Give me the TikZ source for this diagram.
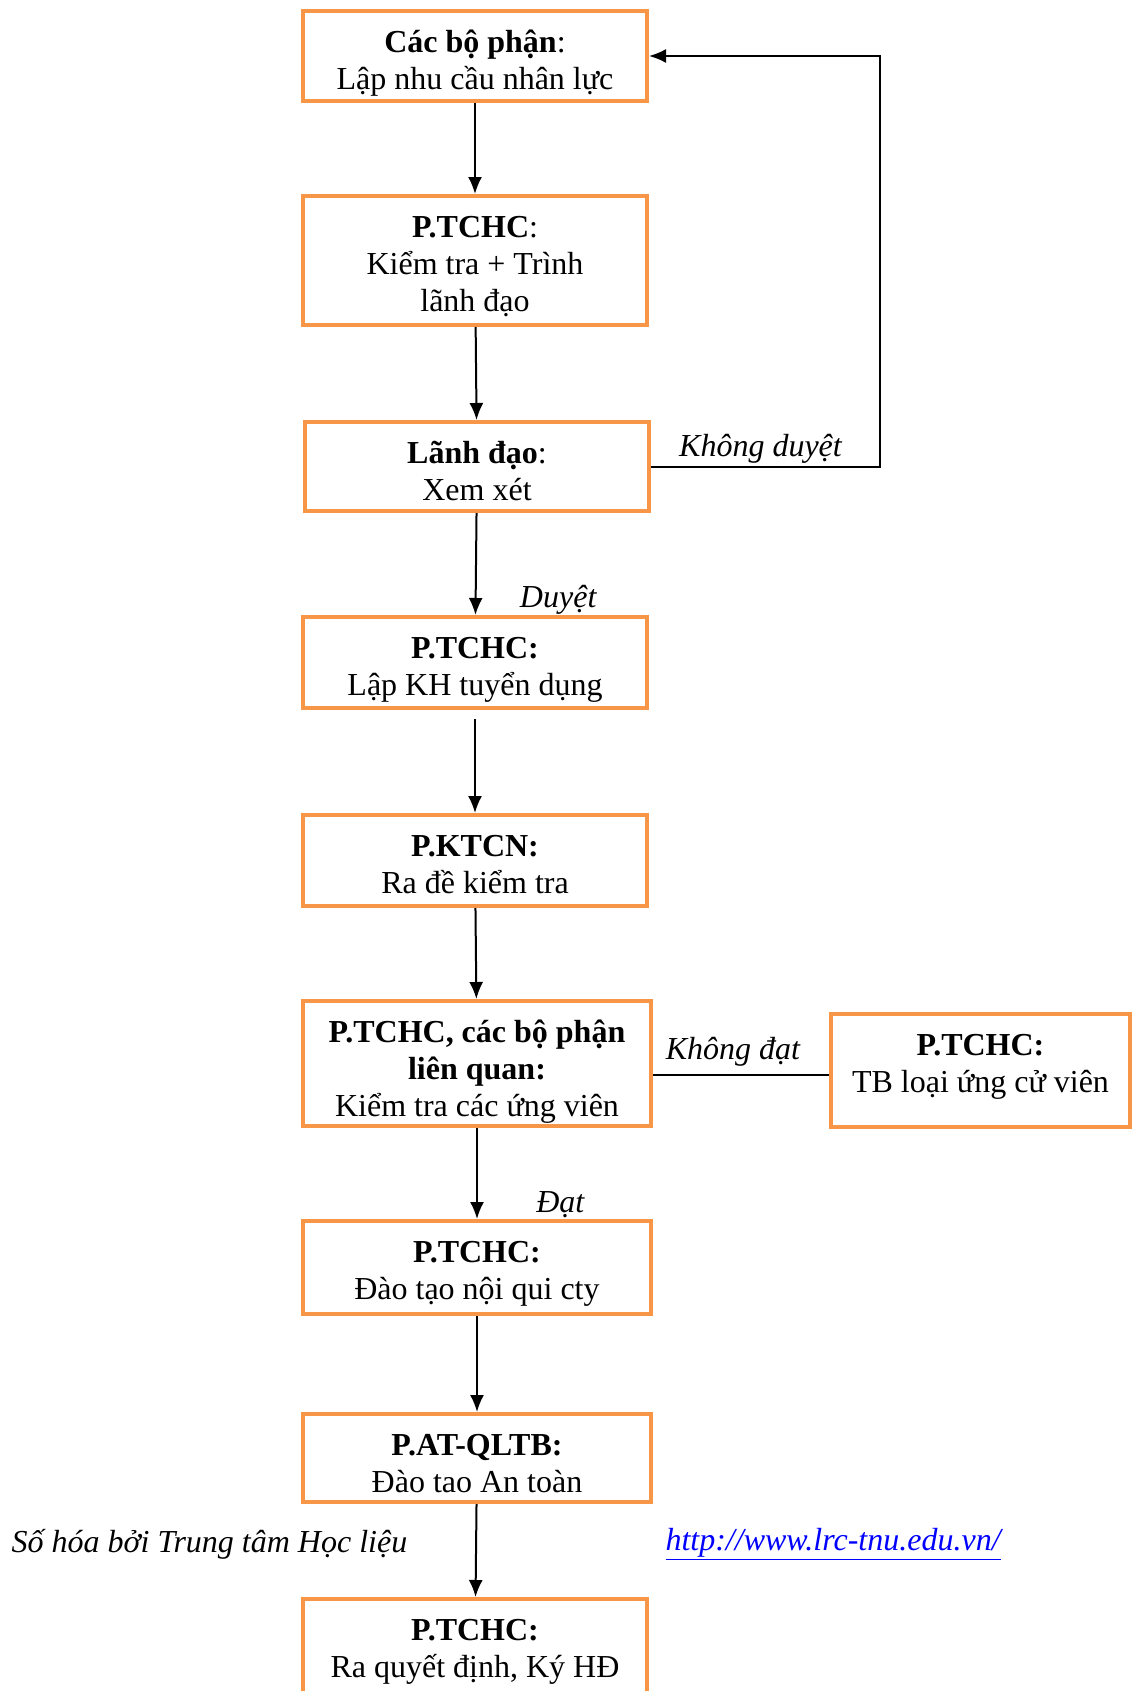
\documentclass[tikz,border=0pt]{standalone}
\usepackage{fontspec}
\setmainfont{Liberation Serif}
\usepackage{tikz}
\usetikzlibrary{arrows.meta}
\usetikzlibrary{positioning}
\usetikzlibrary{math}
\definecolor{boxorange}{RGB}{247,150,70}
\definecolor{linkblue}{RGB}{0,0,255}
\newcommand{\toprow}{\rule{0pt}{31pt}}

\begin{document}
\begin{tikzpicture}[x=1pt, y=-1pt,
  stepbox/.style={draw=boxorange, line width=4pt, inner sep=0pt},
  steptext/.style={align=center, inner sep=0pt, font=\fontsize{32}{37}\selectfont},
  flow/.style={-{Latex[length=17pt,width=14pt]}, line width=2pt},
  note/.style={font=\fontsize{32}{37}\selectfont\itshape}]
\tikzmath{
\W=344;
\Wb=348;
}
\useasboundingbox (0,0) rectangle (1134,1691);

% frames
\node[stepbox, minimum width=\W, minimum height=90] (dept) at (475,56) {};
\node[stepbox, minimum width=\W, minimum height=129] (check) at (475,260.5) {};
\node[stepbox, minimum width=\W, minimum height=89] (lead) at (477,466.5) {};
\node[stepbox, minimum width=\W, minimum height=91] (plan) at (475,662.5) {};
\node[stepbox, minimum width=\W, minimum height=91] (exam) at (475,860.5) {};
\node[stepbox, minimum width=\Wb, minimum height=125] (test) at (477,1063.5) {};
\node[stepbox, minimum width=299, minimum height=113] (reject) at (980.5,1070.5) {};
\node[stepbox, minimum width=\Wb, minimum height=93] (rules) at (477,1267.5) {};
\node[stepbox, minimum width=\Wb, minimum height=88] (safety) at (477,1458) {};
\node[stepbox, minimum width=\W, minimum height=100, anchor=north] (hire) at (475,1597) {};
\coordinate (fail) at (829,1075);

% texts, hanging from the top of each frame
\node[steptext, below=12pt of dept.north] (dept-t)
  {\toprow\textbf{Các bộ phận}:\\Lập nhu cầu nhân lực};
\node[steptext, below=12pt of check.north] (check-t)
  {\toprow\textbf{P.TCHC}:\\Kiểm tra + Trình\\lãnh đạo};
\node[steptext, below=12pt of lead.north] (lead-t)
  {\toprow\textbf{Lãnh đạo}:\\Xem xét};
\node[steptext, below=12pt of plan.north] (plan-t)
  {\toprow\textbf{P.TCHC:}\\Lập KH tuyển dụng};
\node[steptext, below=12pt of exam.north] (exam-t)
  {\toprow\textbf{P.KTCN:}\\Ra đề kiểm tra};
\node[steptext, below=12pt of test.north] (test-t)
  {\toprow\textbf{P.TCHC, các bộ phận}\\\textbf{liên quan:}\\Kiểm tra các ứng viên};
\node[steptext, below=12pt of reject.north] (reject-t)
  {\toprow\textbf{P.TCHC:}\\TB loại ứng cử viên};
\node[steptext, below=12pt of rules.north] (rules-t)
  {\toprow\textbf{P.TCHC:}\\Đào tạo nội qui cty};
\node[steptext, below=12pt of safety.north] (safety-t)
  {\toprow\textbf{P.AT-QLTB:}\\Đào tao An toàn};
\node[steptext, below=12pt of hire.north] (hire-t)
  {\toprow\textbf{P.TCHC:}\\Ra quyết định, Ký HĐ};

% main flow
\draw[flow] (dept) -- (check);
\draw[flow] (check) -- (lead);
\draw[flow] (lead) -- (plan) node[note, pos=0.85, right=40pt]{Duyệt};
\draw[flow, shorten <=9pt] (plan) -- (exam);
\draw[flow] (exam) -- (test);
\draw[flow] (test) -- (rules) node[note, pos=0.84, right=55pt]{Đạt};
\draw[flow] (rules) -- (safety);
\draw[flow] (safety) -- (hire);

% loops back and side branch
\draw[flow] (lead.east) -- ++(229,0) node[note, midway, above=-1pt, xshift=-5pt]{Không duyệt} |- (dept.east);
\draw[line width=2pt] (test.east |- fail) -- (fail)
  node[note, midway, above=4pt, xshift=-8pt]{Không đạt};

\node[note, anchor=west] (digitized) at (8,1544) {Số hóa bởi Trung tâm Học liệu};
\node[note, anchor=west, text=linkblue] (weblink) at (662,1544)
  {\underline{http://www.lrc-tnu.edu.vn/}};
\end{tikzpicture}
\end{document}
